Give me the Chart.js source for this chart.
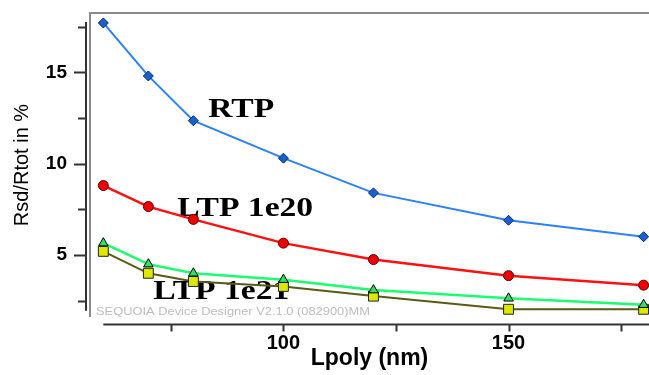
<!DOCTYPE html>
<html>
<head>
<meta charset="utf-8">
<script src="https://cdn.jsdelivr.net/npm/chart.js@4/dist/chart.umd.min.js"></script>
<style>
  html, body { margin: 0; padding: 0; background: #fff; }
  canvas { display: block; }
</style>
</head>
<body>
<canvas id="chart" width="649" height="375"></canvas>
<script>
// data
const lpoly = [60, 70, 80, 100, 120, 150, 180]
const rtp = [17.7, 14.8, 12.35, 10.3, 8.4, 6.9, 6.0]
const ltp1e20 = [8.8, 7.65, 6.95, 5.65, 4.75, 3.87, 3.35]
const ltp1e21 = [5.65, 4.5, 4.0, 3.65, 3.08, 2.63, 2.28]
const ltp1e21b = [5.2, 4.0, 3.55, 3.28, 2.75, 2.03, 2.03]

const xMajor = [100, 150]
const yMajor = [5, 10, 15]

// text labels written on the plot, anchored at data coordinates (left, baseline)
const notes = [
  { text: 'RTP', x: 83.3, y: 12.57 },
  { text: 'LTP 1e20', x: 76.4, y: 7.15 },
  { text: 'LTP 1e21', x: 71.1, y: 2.57 },
]
const watermark = 'SEQUOIA Device Designer V2.1.0 (082900)MM'

const pts = (ys) => lpoly.map((x, i) => ({ x: x, y: ys[i] }))

const sequoiaFrame = {
  id: 'sequoiaFrame',
  beforeDatasetsDraw(chart) {
    const { ctx, chartArea, scales } = chart
    const xs = scales.x
    const ys = scales.y
    ctx.save()
    // grey frame (top and left)
    ctx.strokeStyle = '#8a8a8a'
    ctx.lineWidth = 2
    ctx.beginPath()
    ctx.moveTo(chartArea.right, chartArea.top)
    ctx.lineTo(chartArea.left, chartArea.top)
    ctx.lineTo(chartArea.left, chartArea.bottom)
    ctx.stroke()

    // y axis, offset to the left
    const ax = chartArea.left - 4
    ctx.strokeStyle = '#333'
    ctx.lineWidth = 2
    ctx.beginPath()
    ctx.moveTo(ax, ys.getPixelForValue(17.75))
    ctx.lineTo(ax, ys.getPixelForValue(1.95))
    for (let v = 2.5; v <= 17.5; v += 2.5) {
      const py = Math.round(ys.getPixelForValue(v)) + 0.5
      const len = yMajor.includes(v) ? 12 : 8
      ctx.moveTo(ax, py)
      ctx.lineTo(ax - len, py)
    }
    ctx.stroke()

    // x axis, offset below
    const ay = chartArea.bottom + 7.5
    ctx.beginPath()
    ctx.moveTo(xs.getPixelForValue(60), ay)
    ctx.lineTo(chartArea.right, ay)
    for (let v = 75; v <= 175; v += 25) {
      const px = Math.round(xs.getPixelForValue(v)) + 0.5
      ctx.moveTo(px, ay)
      ctx.lineTo(px, ay + 7)
    }
    ctx.stroke()

    // watermark
    ctx.fillStyle = '#bdbdbd'
    ctx.font = '11px "Liberation Sans", Arial, sans-serif'
    ctx.textBaseline = 'alphabetic'
    ctx.translate(chartArea.left + 6, chartArea.bottom - 2)
    ctx.scale(1.17, 1)
    ctx.fillText(watermark, 0, 0)
    ctx.restore()

    // curve names
    ctx.save()
    ctx.fillStyle = '#000'
    ctx.font = 'bold 28px "Liberation Serif", "Times New Roman", serif'
    ctx.textBaseline = 'alphabetic'
    notes.forEach((n) => {
      ctx.save()
      ctx.translate(xs.getPixelForValue(n.x), ys.getPixelForValue(n.y))
      ctx.scale(1.2, 1)
      ctx.fillText(n.text, 0, 0)
      ctx.restore()
    })
    ctx.restore()
  },
}

new Chart(document.getElementById('chart'), {
  type: 'line',
  data: {
    datasets: [
      {
        label: 'RTP',
        data: pts(rtp),
        borderColor: '#2a80ff',
        borderWidth: 2,
        pointStyle: 'rectRot',
        pointRadius: 5,
        pointBackgroundColor: '#1a5fd0',
        pointBorderColor: '#0a2a60',
        pointBorderWidth: 1,
      },
      {
        label: 'LTP 1e20',
        data: pts(ltp1e20),
        borderColor: '#ff1010',
        borderWidth: 2.5,
        pointStyle: 'circle',
        pointRadius: 5,
        pointBackgroundColor: '#ee0000',
        pointBorderColor: '#5a0000',
        pointBorderWidth: 1,
      },
      {
        label: 'LTP 1e21',
        data: pts(ltp1e21),
        borderColor: '#19ff6e',
        borderWidth: 2.5,
        pointStyle: 'triangle',
        pointRadius: 5.5,
        pointBackgroundColor: '#33dd66',
        pointBorderColor: '#000',
        pointBorderWidth: 1,
      },
      {
        label: 'LTP 1e21 (b)',
        data: pts(ltp1e21b),
        borderColor: '#5a5a14',
        borderWidth: 2,
        pointStyle: 'rect',
        pointRadius: 7,
        pointBackgroundColor: '#dde800',
        pointBorderColor: '#222',
        pointBorderWidth: 1,
      },
    ],
  },
  options: {
    responsive: false,
    animation: false,
    clip: false,
    layout: { autoPadding: false, padding: { top: 13, right: 0, left: 0, bottom: 0 } },
    elements: { line: { tension: 0 } },
    plugins: { legend: { display: false }, tooltip: { enabled: false } },
    scales: {
      x: {
        type: 'linear',
        min: 57.04,
        max: 181.2,
        // tick marks are drawn by the plugin; tickLength only spaces the labels
        grid: { display: false, tickLength: 14 },
        border: { display: false },
        afterFit: (scale) => { scale.height = 58 },
        ticks: {
          stepSize: 25,
          includeBounds: false,
          autoSkip: false,
          maxRotation: 0,
          padding: 0,
          color: '#000',
          font: { family: '"Liberation Sans", Arial, sans-serif', size: 20, weight: 'bold' },
          callback: (v) => (xMajor.includes(v) ? String(v) : ''),
        },
        title: {
          display: true,
          text: 'Lpoly (nm)',
          color: '#000',
          padding: { top: 0, bottom: 3 },
          font: { family: '"Liberation Sans", Arial, sans-serif', size: 23, weight: 'bold' },
        },
      },
      y: {
        min: 1.607,
        max: 18.245,
        grid: { display: false, tickLength: 23 },
        border: { display: false },
        afterFit: (scale) => { scale.width = 90 },
        ticks: {
          stepSize: 2.5,
          includeBounds: false,
          autoSkip: false,
          padding: 0,
          color: '#000',
          font: { family: '"Liberation Sans", Arial, sans-serif', size: 19, weight: 'bold' },
          callback: (v) => (yMajor.includes(v) ? String(v) : ''),
        },
        title: {
          display: true,
          text: 'Rsd/Rtot in %',
          color: '#000',
          padding: { top: 10, bottom: 0 },
          font: { family: '"Liberation Sans", Arial, sans-serif', size: 20 },
        },
      },
    },
  },
  plugins: [sequoiaFrame],
})
</script>
</body>
</html>
